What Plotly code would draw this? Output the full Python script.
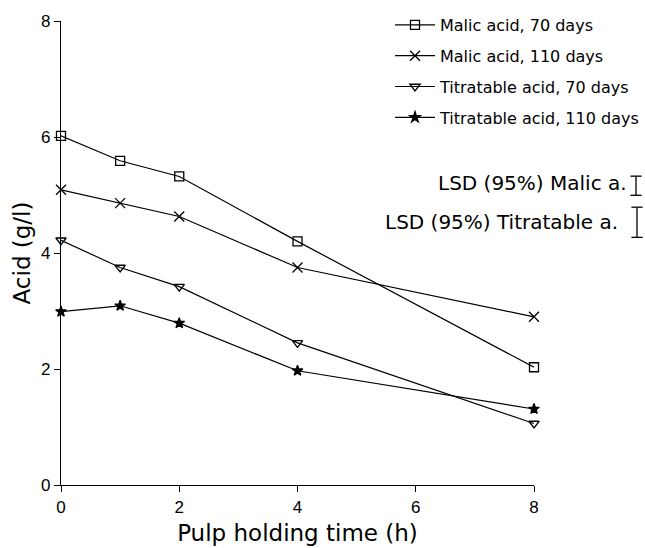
import plotly.graph_objects as go

# ---- data ----
hours = [0, 1, 2, 4, 8]
malic_70 = [6.02, 5.59, 5.32, 4.20, 2.03]
malic_110 = [5.09, 4.86, 4.63, 3.75, 2.90]
titr_70 = [4.22, 3.75, 3.42, 2.45, 1.06]
titr_110 = [2.99, 3.09, 2.79, 1.97, 1.31]
series_names = ["Malic acid, 70 days", "Malic acid, 110 days",
                "Titratable acid, 70 days", "Titratable acid, 110 days"]
lsd_labels = ["LSD (95%) Malic a.", "LSD (95%) Titratable a."]
lsd_values = [0.33, 0.52]
x_ticks = [0, 2, 4, 6, 8]
y_ticks = [0, 2, 4, 6, 8]

# ---- styling ----
W, H = 645, 548
ML, MR, MT, MB = 61, 0, 21, 63
PW = W - ML - MR
PH = H - MT - MB
x_end_px = 534
main_dom = (x_end_px - ML) / PW

def px_x(p):
    return (p - ML) / PW

def px_y(p):
    return (H - MB - p) / PH

tick_font = dict(family="Liberation Sans, Arial, sans-serif", size=17, color="black")
text_font = dict(family="DejaVu Sans, sans-serif", size=16, color="black")
title_font = dict(family="DejaVu Sans, sans-serif", size=23, color="black")
lsd_font = dict(family="DejaVu Sans, sans-serif", size=20, color="black")

symbols = ["square-open", "x-thin-open", "triangle-down-open", "star"]
sizes = [9, 10, 9, 8]

fig = go.Figure()
for i, (name, ys) in enumerate(zip(series_names, [malic_70, malic_110, titr_70, titr_110])):
    fig.add_trace(go.Scatter(
        x=hours, y=ys, name=name, mode="lines+markers",
        line=dict(color="black", width=1.2),
        marker=dict(symbol=symbols[i], size=sizes[i], color="black",
                    line=dict(color="black", width=1.3)),
        cliponaxis=False, legendgroup=f"g{i}",
    ))

# LSD bars: vertical extent equals the LSD value on the same g/l scale
x2_end = W - MR
lsd_px = [636, 637]
lsd_center = [5.16, 4.53]
for i in range(2):
    xb = (lsd_px[i] - x_end_px) / (x2_end - x_end_px)
    half = lsd_values[i] / 2
    fig.add_trace(go.Scatter(
        x=[xb, xb], y=[lsd_center[i] - half, lsd_center[i] + half],
        xaxis="x2", yaxis="y2", mode="lines+markers",
        line=dict(color="black", width=1.3),
        marker=dict(symbol="line-ew-open", size=8, color="black",
                    line=dict(color="black", width=1.3)),
        showlegend=False, hoverinfo="skip", cliponaxis=False,
    ))

annotations = [
    dict(text=lsd_labels[0], xref="paper", yref="paper", x=px_x(629), y=px_y(183),
         xanchor="right", yanchor="middle", showarrow=False, font=lsd_font),
    dict(text=lsd_labels[1], xref="paper", yref="paper", x=px_x(620), y=px_y(222),
         xanchor="right", yanchor="middle", showarrow=False, font=lsd_font),
]

fig.update_layout(
    width=W, height=H,
    margin=dict(l=ML, r=MR, t=MT, b=MB, autoexpand=False),
    paper_bgcolor="white", plot_bgcolor="white",
    showlegend=True,
    legend=dict(x=px_x(390), y=px_y(8), xanchor="left", yanchor="top",
                font=text_font, bgcolor="rgba(0,0,0,0)",
                traceorder="grouped", tracegroupgap=7, itemwidth=40),
    xaxis=dict(domain=[0, main_dom], range=[0, 8], tickvals=x_ticks,
               showgrid=False, zeroline=False, showline=True, linecolor="black",
               linewidth=1.2, ticks="outside", ticklen=6, tickcolor="black",
               tickfont=tick_font,
               title=dict(text="Pulp holding time (h)", font=title_font, standoff=9)),
    yaxis=dict(domain=[0, 1], range=[0, 8], tickvals=y_ticks,
               showgrid=False, zeroline=False, showline=True, linecolor="black",
               linewidth=1.2, ticks="outside", ticklen=6, tickcolor="black",
               tickfont=tick_font,
               title=dict(text="Acid (g/l)", font=title_font, standoff=3)),
    xaxis2=dict(domain=[main_dom, 1], range=[0, 1], anchor="y2", visible=False),
    yaxis2=dict(domain=[0, 1], range=[0, 8], anchor="x2", visible=False),
    annotations=annotations,
)

# remove the browser's default page margin so the chart sits at the window origin
fig.write_html("out.html", config={"displayModeBar": False},
               post_script="document.body.style.margin='0';")
